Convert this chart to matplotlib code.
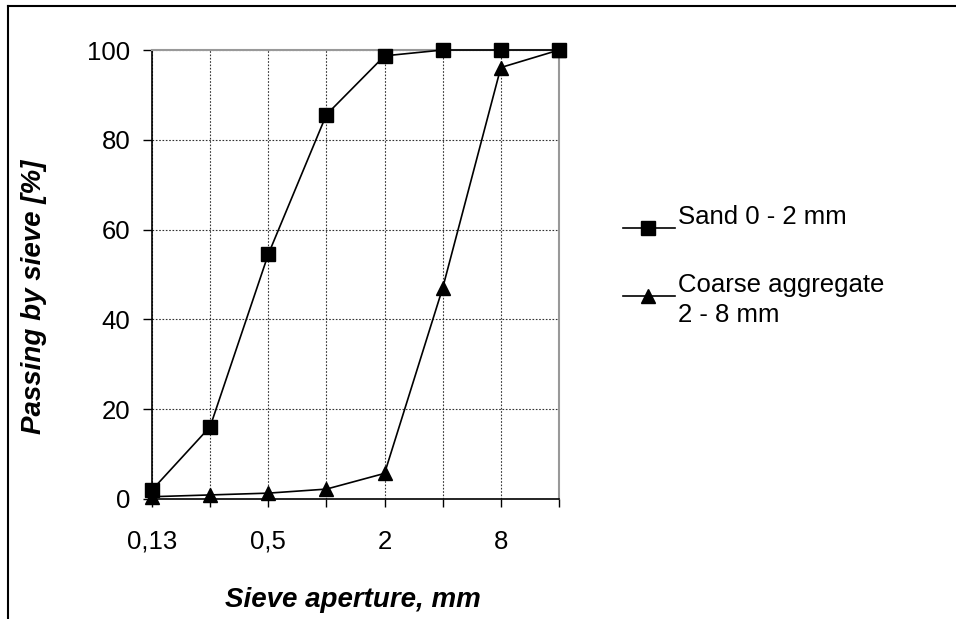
import matplotlib.pyplot as plt
import numpy as np
from matplotlib.lines import Line2D

plt.rcParams['font.family'] = ['Liberation Sans', 'DejaVu Sans']

sieves = ['0,13', '0,25', '0,5', '1', '2', '4', '8', '16']
shown_labels = ['0,13', '', '0,5', '', '2', '', '8', '']
sand = [2, 16.1, 54.5, 85.6, 98.7, 100, 100, 100]
coarse = [0.5, 0.9, 1.3, 2.2, 5.7, 47, 96.1, 100]
series_names = ['Sand 0 - 2 mm', 'Coarse aggregate\n2 - 8 mm']
series_markers = ['s', '^']

x = np.arange(len(sieves))

fig = plt.figure(figsize=(9.56, 6.19), dpi=100)
ax = fig.add_axes([0.159, 0.1939, 0.4257, 0.7253])

for vals, mk in zip([sand, coarse], series_markers):
    ax.plot(x, vals, color='black', lw=1.2, marker=mk, ms=10, clip_on=False, zorder=3)

ax.set_xlim(0, len(sieves) - 1)
ax.set_ylim(0, 100)
ax.set_xticks(x)
ax.set_xticklabels(shown_labels)
ax.set_yticks([0, 20, 40, 60, 80, 100])

ax.grid(True, color='#333333', linestyle=(0, (1.5, 1.5)), linewidth=0.8)
ax.set_axisbelow(True)

for side in ['left', 'bottom']:
    ax.spines[side].set_color('black')
    ax.spines[side].set_linewidth(1.2)
for side in ['top', 'right']:
    ax.spines[side].set_color('#999999')
    ax.spines[side].set_linewidth(1.5)

ax.tick_params(axis='x', direction='out', length=5.8, width=1, pad=16.5, labelsize=18.5)
ax.tick_params(axis='y', direction='out', length=6.5, width=1, pad=9, labelsize=18.5)

fig.text(353 / 956, 1 - 600 / 619, 'Sieve aperture, mm', fontsize=20, fontweight='bold',
         fontstyle='italic', ha='center', va='center')
fig.text(34 / 956, 1 - 297 / 619, 'Passing by sieve [%]', fontsize=20, fontweight='bold',
         fontstyle='italic', ha='center', va='center', rotation=90)

# legend drawn to the right of the plot
handle_y = [228, 296]
text_base = [224, 322]  # baseline of the last text line
for name, mk, hy, ty in zip(series_names, series_markers, handle_y, text_base):
    fy = 1 - hy / 619
    fig.add_artist(Line2D([623 / 956, 675 / 956], [fy, fy], transform=fig.transFigure,
                          color='black', lw=1.2))
    fig.add_artist(Line2D([648 / 956], [fy], transform=fig.transFigure, color='black',
                          marker=mk, ms=10, lw=0))
    fig.text(678 / 956, 1 - ty / 619, name, fontsize=18.5, ha='left', va='baseline',
             linespacing=1.3)

# outer frame (top and left only visible)
fig.add_artist(Line2D([0.0085, 1.0], [0.9895, 0.9895], transform=fig.transFigure, color='black', lw=1.5))
fig.add_artist(Line2D([0.0085, 0.0085], [0.0, 0.9895], transform=fig.transFigure, color='black', lw=1.5))

plt.savefig('out.png', dpi=100)
